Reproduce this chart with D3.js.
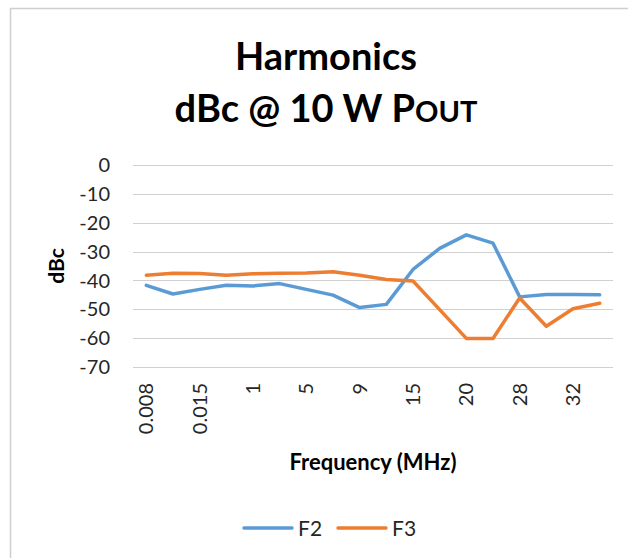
<!DOCTYPE html>
<html>
<head>
<meta charset="utf-8">
<script src="https://cdn.jsdelivr.net/npm/d3@7"></script>
<style>
  body { margin: 0; background: #fff; }
  svg { font-family: Lato, "Open Sans", sans-serif; }
</style>
</head>
<body>
<div id="chart"></div>
<script>
// categories (every other label is shown, like the source chart)
var freqs = ['0.008', '0.01', '0.015', '0.1', '1', '3', '5', '7', '9', '12',
             '15', '18', '20', '24', '28', '30', '32', '35'];
var f2 = [-41.7, -44.7, -43.1, -41.7, -41.9, -41.1, -43.1, -45.1, -49.4, -48.3,
          -36.2, -28.9, -24.2, -27.1, -45.7, -44.9, -44.9, -45.0];
var f3 = [-38.2, -37.5, -37.6, -38.2, -37.7, -37.5, -37.4, -37.0, -38.2, -39.7,
          -40.2, -50.1, -60.1, -60.1, -46.1, -55.9, -49.8, -47.9];
var yTicks = [0, -10, -20, -30, -40, -50, -60, -70];

var series = [
    {name: 'F2', values: f2, color: '#5b9bd5'},
    {name: 'F3', values: f3, color: '#ed7d31'}
];

var width = 628, height = 558;
var margin = {top: 165, right: 15, bottom: 191, left: 133};

var svg = d3.select('#chart').append('svg')
    .attr('width', width)
    .attr('height', height);

// chart frame
svg.append('rect')
    .attr('x', 10.5).attr('y', 8.5)
    .attr('width', width + 20).attr('height', height + 20)
    .attr('fill', 'none')
    .attr('stroke', '#cfcfcf')
    .attr('stroke-width', 1.5);

var x = d3.scaleBand()
    .domain(freqs)
    .range([margin.left, width - margin.right]);

var y = d3.scaleLinear()
    .domain([-70, 0])
    .range([height - margin.bottom, margin.top]);

// gridlines
svg.append('g')
    .selectAll('line')
    .data(yTicks)
    .enter().append('line')
    .attr('x1', margin.left)
    .attr('x2', width - margin.right)
    .attr('y1', function(d) { return Math.round(y(d)) + 0.5; })
    .attr('y2', function(d) { return Math.round(y(d)) + 0.5; })
    .attr('stroke', '#d0d0d0')
    .attr('stroke-width', 1);

// y axis labels
svg.append('g')
    .selectAll('text')
    .data(yTicks)
    .enter().append('text')
    .attr('x', 110)
    .attr('y', function(d) { return y(d); })
    .attr('dy', '0.36em')
    .attr('text-anchor', 'end')
    .attr('font-size', 20)
    .attr('fill', '#262626')
    .text(function(d) { return String(d); });

// x axis labels, rotated
svg.append('g')
    .selectAll('text')
    .data(freqs.filter(function(d, i) { return i % 2 === 0; }))
    .enter().append('text')
    .attr('transform', function(d) {
        return 'translate(' + (x(d) + x.bandwidth() / 2 + 7) + ',383) rotate(-90)';
    })
    .attr('text-anchor', 'end')
    .attr('font-size', 20)
    .attr('fill', '#262626')
    .text(function(d) { return d; });

// lines
var line = d3.line()
    .x(function(d, i) { return x(freqs[i]) + x.bandwidth() / 2; })
    .y(function(d) { return y(d); });

svg.append('g')
    .selectAll('path')
    .data(series)
    .enter().append('path')
    .attr('d', function(s) { return line(s.values); })
    .attr('fill', 'none')
    .attr('stroke', function(s) { return s.color; })
    .attr('stroke-width', 3.5)
    .attr('stroke-linejoin', 'round')
    .attr('stroke-linecap', 'round');

// titles
var title = svg.append('text')
    .attr('text-anchor', 'middle')
    .attr('font-weight', 'bold')
    .attr('font-size', 38)
    .attr('fill', '#000');
title.append('tspan').attr('x', 326).attr('y', 70).text('Harmonics');
var t2 = title.append('tspan').attr('x', 326).attr('y', 122);
t2.append('tspan').text('dBc @ 10 W P');
t2.append('tspan').attr('font-size', 29).text('OUT');

svg.append('text')
    .attr('transform', 'translate(64,266) rotate(-90)')
    .attr('text-anchor', 'middle')
    .attr('font-weight', 'bold')
    .attr('font-size', 21)
    .text('dBc');

svg.append('text')
    .attr('x', 373)
    .attr('y', 470)
    .attr('text-anchor', 'middle')
    .attr('font-weight', 'bold')
    .attr('font-size', 22)
    .text('Frequency (MHz)');

// legend
var legend = svg.append('g')
    .selectAll('g')
    .data(series)
    .enter().append('g')
    .attr('transform', function(d, i) { return 'translate(' + (244 + i * 94) + ',528)'; });
legend.append('line')
    .attr('x1', 0).attr('x2', 48)
    .attr('stroke', function(d) { return d.color; })
    .attr('stroke-width', 3.5)
    .attr('stroke-linecap', 'round');
legend.append('text')
    .attr('x', 54)
    .attr('dy', '0.36em')
    .attr('font-size', 21)
    .attr('fill', '#262626')
    .text(function(d) { return d.name; });
</script>
</body>
</html>
